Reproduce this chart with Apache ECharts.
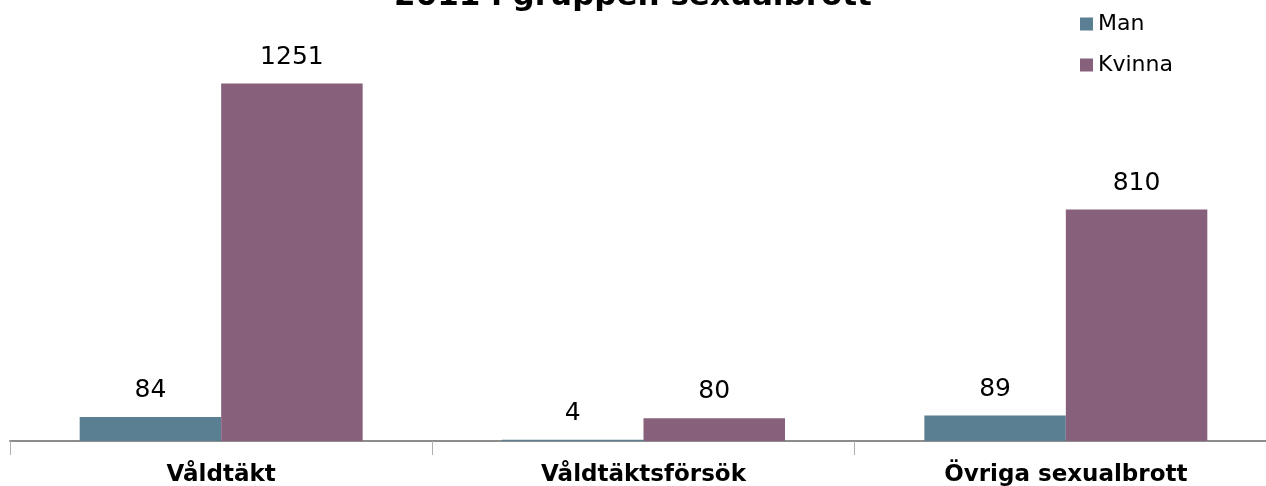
<!DOCTYPE html>
<html>
<head>
<meta charset="utf-8">
<script src="https://cdn.jsdelivr.net/npm/echarts@6/dist/echarts.min.js"></script>
<style>
  html, body { margin: 0; padding: 0; background: #fff; }
  #main { width: 1266px; height: 486px; }
</style>
</head>
<body>
<div id="main"></div>
<script>
// data
var categories = ["Våldtäkt", "Våldtäktsförsök", "Övriga sexualbrott"];
var manValues = [84, 4, 89];
var kvinnaValues = [1251, 80, 810];

var myChart = echarts.init(document.getElementById("main"));
var font = "DejaVu Sans";

var option = {
  animation: false,
  textStyle: { fontFamily: font },
  title: {
    text: "2011 i gruppen sexualbrott",
    left: "center",
    top: -24,
    textStyle: { fontFamily: font, fontSize: 31, fontWeight: "bold", color: "#000" }
  },
  legend: {
    orient: "vertical",
    left: 1075,
    top: 8,
    itemWidth: 13,
    itemHeight: 13,
    itemGap: 19,
    icon: "rect",
    textStyle: { fontFamily: font, fontSize: 22, color: "#000", padding: [0, 0, 0, 0] },
    data: ["Man", "Kvinna"]
  },
  grid: { left: 10, width: 1267, top: 41, bottom: 45, outerBoundsMode: "none" },
  xAxis: {
    type: "category",
    data: categories,
    axisLine: { lineStyle: { color: "#8c8c8c", width: 2 } },
    axisTick: { show: true, length: 14, lineStyle: { color: "#b0b0b0" } },
    axisLabel: { fontFamily: font, fontSize: 23, fontWeight: "bold", color: "#000", margin: 23 }
  },
  yAxis: {
    type: "value",
    min: 0,
    max: 1400,
    show: false,
    splitLine: { show: false }
  },
  series: [
    {
      name: "Man",
      type: "bar",
      data: manValues,
      barGap: "0%",
      barCategoryGap: "33%",
      itemStyle: { color: "#5b7f92" },
      label: { show: true, position: "top", distance: 14, fontFamily: font, fontSize: 25, color: "#000" }
    },
    {
      name: "Kvinna",
      type: "bar",
      data: kvinnaValues,
      itemStyle: { color: "#87607b" },
      label: { show: true, position: "top", distance: 14, fontFamily: font, fontSize: 25, color: "#000" }
    }
  ]
};
myChart.setOption(option);
</script>
</body>
</html>
